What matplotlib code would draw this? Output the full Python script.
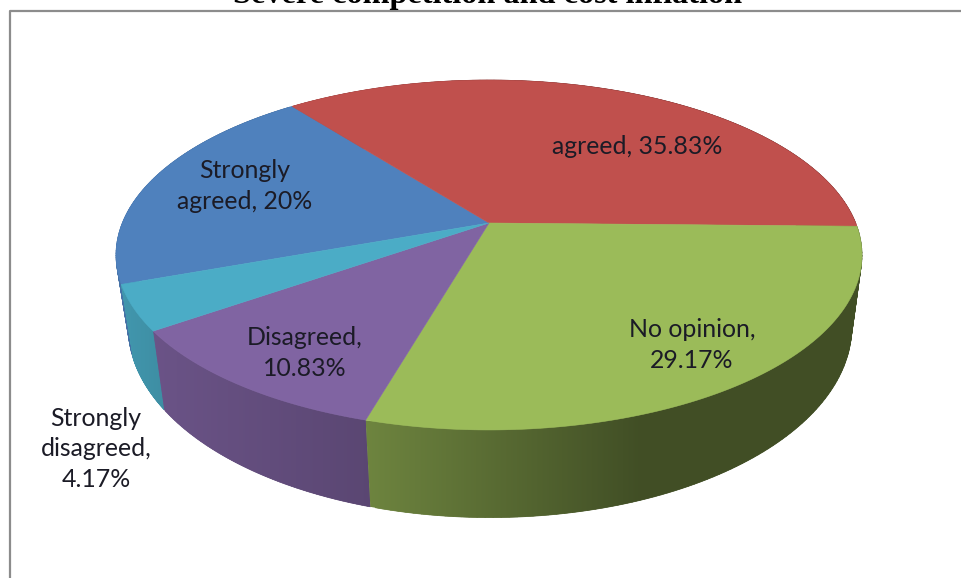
import numpy as np
import matplotlib
matplotlib.use("Agg")
import matplotlib.pyplot as plt
from matplotlib.patches import Polygon

categories = ["Strongly agreed", "agreed", "No opinion", "Disagreed", "Strongly disagreed"]
percents = [20, 35.83, 29.17, 10.83, 4.17]
colors = ["#4f81bd", "#c0504d", "#9bbb59", "#8064a2", "#4bacc6"]
labels = ["Strongly\nagreed, 20%", "agreed, 35.83%", "No opinion,\n29.17%",
          "Disagreed,\n10.83%", "Strongly\ndisagreed,\n4.17%"]
label_pos = [(245, 186), (637, 146), (692, 345), (305, 353), (96, 449)]
title = "Severe competition and cost inflation"

# pie geometry in pixels
cx, cy = 489, 223
rx, ry = 366.7, 169.1
persp = -0.1829
start = 160.1
side_order = [1, 0, 4, 3, 2]  # back to front


def project(t, sx=1.0, sy=1.0, dx=0.0, dy=0.0):
    x, y = np.cos(t), np.sin(t)
    d = 1 + persp * y
    return cx + dx + sx * rx * x / d, cy + dy + sy * ry * y / d


def shade(color, x):
    # side gets darker going right, flat past x=640
    f = np.interp(x, [120, 160, 365, 640], [0.88, 0.83, 0.71, 0.42])
    return np.outer(f, matplotlib.colors.to_rgb(color))


fig = plt.figure(figsize=(9.61, 5.78), dpi=100)
ax = fig.add_axes([0, 0, 1, 1])
ax.axis("off")

edges = start + np.cumsum([0] + percents) * 3.6

# sides first: quads give the outline, a clipped gradient image hides their seams
for z, i in enumerate(side_order):
    ts = np.radians(np.linspace(edges[i], edges[i + 1], 300))
    x_top, y_top = project(ts)
    x_bot, y_bot = project(ts, 0.97, 1.09, 1, 69)
    for k in range(0, len(ts) - 3, 3):
        qx = [x_top[k], x_top[k + 3], x_bot[k + 3], x_bot[k]]
        qy = [y_top[k], y_top[k + 3], y_bot[k + 3], y_bot[k]]
        ax.fill(qx, qy, color=shade(colors[i], [x_top[k]])[0], lw=0.5, zorder=2 + z * 0.1)
    xs = np.r_[x_top, x_bot[::-1]]
    ys = np.r_[y_top, y_bot[::-1]]
    grid = np.arange(xs.min(), xs.max() + 1)
    im = ax.imshow(shade(colors[i], grid)[np.newaxis, :, :], aspect="auto",
                   extent=(grid[0], grid[-1], ys.max(), ys.min()),
                   interpolation="bilinear", zorder=2.05 + z * 0.1)
    rim = Polygon(np.c_[xs, ys], closed=True, fc="none", ec="none", transform=ax.transData)
    ax.add_patch(rim)
    im.set_clip_path(rim)

# top of the slices
for i in range(len(percents)):
    ts = np.radians(np.linspace(edges[i], edges[i + 1], 200))
    xs, ys = project(ts)
    ax.fill(np.r_[cx, xs], np.r_[cy, ys], color=colors[i], lw=0.4, zorder=5)

ax.set_xlim(0, 961)
ax.set_ylim(578, 0)

for lab, (x, y) in zip(labels, label_pos):
    ax.text(x, y, lab, ha="center", va="center", family="Lato", fontsize=17.9,
            color="#1b1b26", linespacing=1.42, zorder=6)

ax.text(488, 3, title, ha="center", va="baseline", family="Liberation Serif",
        fontsize=23.2, fontweight="bold", color="black", zorder=6)

# frame of the chart area, runs off the picture right and below
ax.plot([9.5, 9.5, 961], [578, 10.5, 10.5], color="#8c8c8c", lw=1.6, zorder=1)

fig.savefig("out.png", dpi=100)
